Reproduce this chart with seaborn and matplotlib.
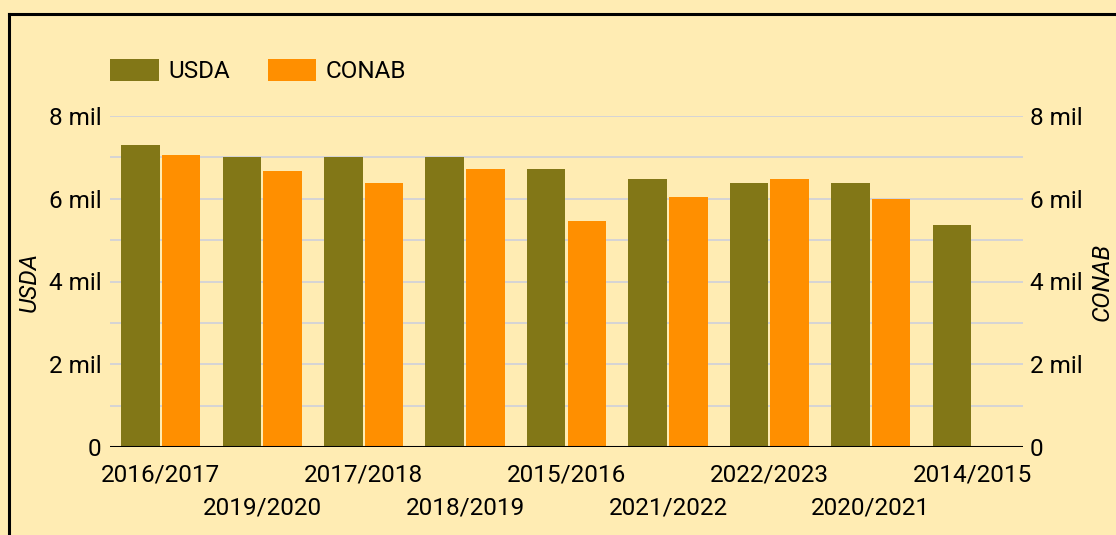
import pandas as pd
import numpy as np
import matplotlib
matplotlib.use('Agg')
import matplotlib.pyplot as plt
from matplotlib.ticker import MultipleLocator, FuncFormatter
from matplotlib.patches import Patch
from matplotlib.lines import Line2D
import seaborn as sns

# Datos (miles de toneladas)
safras = ['2016/2017', '2019/2020', '2017/2018', '2018/2019', '2015/2016',
          '2021/2022', '2022/2023', '2020/2021', '2014/2015']
usda = [7300, 7000, 7000, 7000, 6720, 6470, 6380, 6380, 5360]
conab = [7050, 6670, 6380, 6710, 5460, 6040, 6470, 5990, np.nan]
fontes = ['USDA', 'CONAB']
colores = {'USDA': '#827717', 'CONAB': '#FF8F00'}

fondo = '#FFECB3'
fs = 17.5
plt.rcParams['font.family'] = ['Roboto', 'DejaVu Sans']

df = pd.DataFrame({
    'safra': safras * 2,
    'fuente': ['USDA'] * len(safras) + ['CONAB'] * len(safras),
    'valor': usda + conab,
}).dropna()

fig = plt.figure(figsize=(11.16, 5.35), dpi=100, facecolor=fondo)
W, H = 1116, 535
ax = fig.add_axes([110 / W, 88 / H, 913 / W, 331 / H])
ax.set_facecolor(fondo)

sns.barplot(data=df, x='safra', y='valor', hue='fuente', order=safras,
            hue_order=fontes, palette=colores, width=0.8, gap=0.05,
            saturation=1, legend=False, ax=ax, zorder=3)

ax.set_ylim(0, 8000)
ax.set_xlim(-0.5, len(safras) - 0.5)
ax.yaxis.set_major_locator(MultipleLocator(2000))
ax.yaxis.set_minor_locator(MultipleLocator(1000))
fmt = FuncFormatter(lambda v, p: '0' if v == 0 else f'{v / 1000:.0f} mil')
ax.yaxis.set_major_formatter(fmt)
ax.grid(axis='y', which='both', color='#D2D2D8', linewidth=1.3, zorder=0)
ax.grid(axis='x', visible=False)
ax.set_axisbelow(True)
for s in ax.spines.values():
    s.set_visible(False)
ax.axhline(0, color='black', linewidth=2.2, zorder=5)

ax.tick_params(axis='y', which='both', length=0, pad=6, labelsize=fs)
ax.tick_params(axis='x', length=0, labelsize=fs)
ax.set_xlabel('')
ax.set_ylabel('USDA', fontsize=fs, style='italic', labelpad=6)

# etiquetas escalonadas
for i, t in enumerate(ax.xaxis.get_major_ticks()):
    t.set_pad(12 if i % 2 == 0 else 36)

ax2 = ax.twinx()
ax2.set_ylim(ax.get_ylim())
ax2.yaxis.set_major_locator(MultipleLocator(2000))
ax2.yaxis.set_major_formatter(fmt)
ax2.tick_params(axis='y', length=0, pad=5, labelsize=fs)
for s in ax2.spines.values():
    s.set_visible(False)
ax2.set_ylabel('CONAB', fontsize=fs, style='italic', labelpad=6)

handles = [Patch(facecolor=colores[f], label=f) for f in fontes]
fig.legend(handles=handles, loc='center left', bbox_to_anchor=(110 / W, 1 - 71 / H),
           ncol=2, frameon=False, fontsize=fs, handlelength=2.0, handleheight=1.0,
           handletextpad=0.4, columnspacing=1.55, borderpad=0, borderaxespad=0)

# borde
fig.add_artist(Line2D([9 / W, 9 / W], [0, 1 - 13.5 / H], color='black', lw=2.2,
                      transform=fig.transFigure))
fig.add_artist(Line2D([9 / W, 1], [1 - 13.5 / H, 1 - 13.5 / H], color='black', lw=2.2,
                      transform=fig.transFigure))

fig.savefig('out.png', dpi=100, facecolor=fondo)
